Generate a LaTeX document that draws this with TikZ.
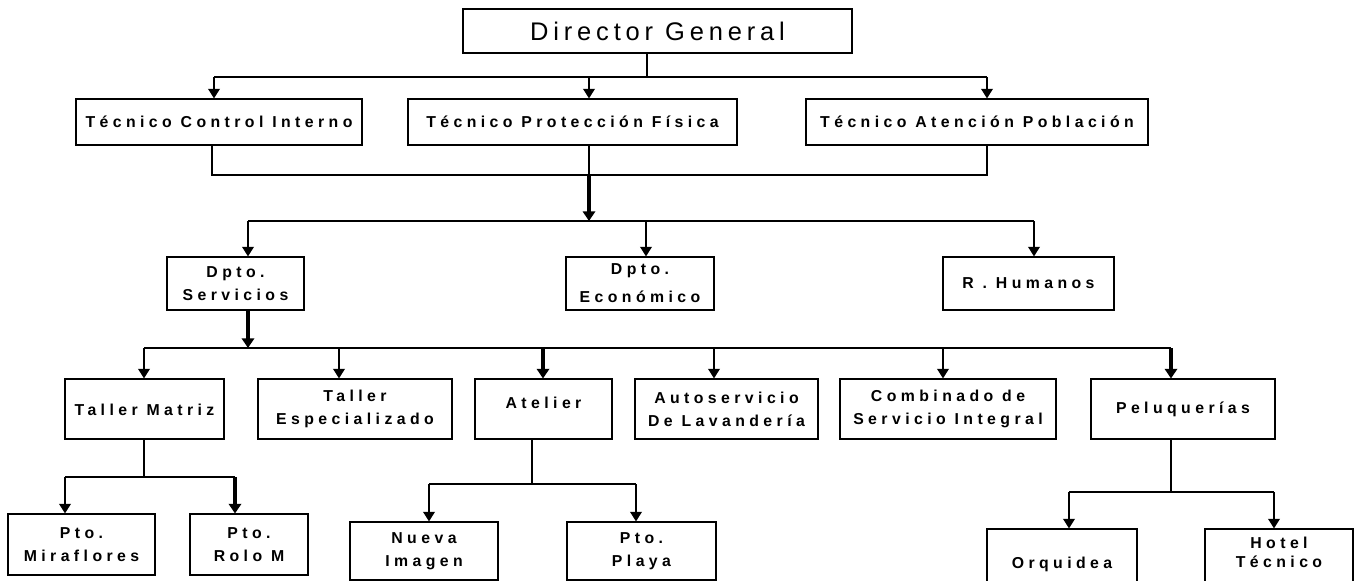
\documentclass[tikz,border=0pt]{standalone}
\usepackage{fontspec}
\setmainfont{Liberation Sans}
\newfontfamily\trackfont[LetterSpace=28]{Liberation Sans}
\newfontfamily\dgfont[LetterSpace=19]{Liberation Sans}
\usetikzlibrary{arrows.meta}

\begin{document}
\begin{tikzpicture}[x=0.02cm, y=-0.02cm,
    box/.style args={#1x#2}{draw, line width=0.6pt, inner sep=0pt, align=center,
      minimum width=#1*0.02cm, minimum height=#2*0.02cm,
      font=\trackfont\bfseries\fontsize{9}{13}\selectfont},
    ln/.style={line width=0.6pt},
    arr/.style={line width=1.3pt, -{Triangle[width=6.5pt,length=5.5pt]}},
    arrb/.style={line width=1.9pt, -{Triangle[width=7pt,length=5.5pt]}}]
    \useasboundingbox (0,0) rectangle (1356,581);
    \clip (0,0) rectangle (1356,581);

    % boxes
    \node[box=389x44, font=\dgfont\fontsize{14.5}{17}\selectfont] (dg) at (657.5,31) {Director General};
    \node[box=286x46] (tci) at (219,122) {Técnico Control Interno};
    \node[box=329x46] (tpf) at (572.5,122) {Técnico Protección Física};
    \node[box=342x46] (tap) at (977,122) {Técnico Atención Población};

    \node[box=137x53] (srv) at (235.5,283.5) {Dpto.\\Servicios};
    \node[box=148x53] (eco) at (640,283.5) {Dpto.\\[3pt]Económico};
    \node[box=171x53] (rh) at (1028.5,283.5) {R . Humanos};

    \node[box=159x60] (tm) at (144.5,409) {\mbox{}\\[-6pt]Taller Matriz};
    \node[box=194x60] (te) at (355,409) {Taller\\Especializado};
    \node[box=137x60] (atl) at (543.5,409) {Atelier\\[-6pt]\mbox{}};
    \node[box=183x60] (lav) at (726.5,409) {Autoservicio\\De Lavandería};
    \node[box=216x60] (csi) at (948,409) {Combinado de\\Servicio Integral};
    \node[box=184x60] (pel) at (1183,409) {Peluquerías};

    \node[box=147x61] (mir) at (81.5,544.5) {Pto.\\Miraflores};
    \node[box=118x61] (rol) at (249,544.5) {Pto.\\Rolo M};
    \node[box=148x58] (nue) at (424,551) {Nueva\\Imagen};
    \node[box=149x58] (pla) at (641.5,551) {Pto.\\Playa};
    \node[box=150x70] (orq) at (1062,564) {Orquidea};
    \node[box=148x70] (hot) at (1279,564) {Hotel\\[-2pt]Técnico\\\mbox{}};

    % director -> tecnicos
    \coordinate (t0) at (647,77);
    \coordinate (t1) at (214,77);
    \coordinate (t3) at (987,77);
    \draw[ln] (dg.south -| t0) -- (t0);
    \draw[ln] (t1) -- (t3);
    \foreach \c/\n in {214/tci,589/tpf,987/tap}{
      \coordinate (p) at (\c,77);
      \draw[arr] (p) -- (p |- \n.north);
    }

    % tecnicos -> departamentos
    \coordinate (u1) at (212,175);
    \coordinate (u2) at (589,175);
    \coordinate (u3) at (987,175);
    \coordinate (d0) at (589,221);
    \coordinate (d1) at (248,221);
    \coordinate (d3) at (1034,221);
    \draw[ln] (u1 |- tci.south) -- (u1) -- (u3) -- (u3 |- tap.south);
    \draw[ln] (u2 |- tpf.south) -- (u2);
    \draw[arrb] (u2) -- (d0);
    \draw[ln] (d1) -- (d3);
    \foreach \c/\n in {248/srv,646/eco,1034/rh}{
      \coordinate (p) at (\c,221);
      \draw[arr] (p) -- (p |- \n.north);
    }

    % servicios -> unidades
    \coordinate (s0) at (248,348);
    \coordinate (s1) at (144,348);
    \coordinate (s6) at (1171,348);
    \draw[arrb] (srv.south -| s0) -- (s0);
    \draw[ln] (s1) -- (s6);
    \foreach \c/\n/\s in {144/tm/arr,339/te/arr,543/atl/arrb,714/lav/arr,943/csi/arr,1171/pel/arrb}{
      \coordinate (p) at (\c,348);
      \draw[\s] (p) -- (p |- \n.north);
    }

    % unidades -> puntos
    \coordinate (m0) at (144,477);
    \coordinate (m1) at (65,477);
    \coordinate (m2) at (235,477);
    \draw[ln] (tm.south -| m0) -- (m0);
    \draw[ln] (m1) -- (m2);
    \draw[arr] (m1) -- (m1 |- mir.north);
    \draw[arrb] (m2) -- (m2 |- rol.north);

    \coordinate (a0) at (532,484);
    \coordinate (a1) at (429,484);
    \coordinate (a2) at (636,484);
    \draw[ln] (atl.south -| a0) -- (a0);
    \draw[ln] (a1) -- (a2);
    \draw[arr] (a1) -- (a1 |- nue.north);
    \draw[arr] (a2) -- (a2 |- pla.north);

    \coordinate (q0) at (1171,492);
    \coordinate (q1) at (1069,492);
    \coordinate (q2) at (1274,492);
    \draw[ln] (pel.south -| q0) -- (q0);
    \draw[ln] (q1) -- (q2);
    \draw[arr] (q1) -- (q1 |- orq.north);
    \draw[arr] (q2) -- (q2 |- hot.north);
\end{tikzpicture}
\end{document}
